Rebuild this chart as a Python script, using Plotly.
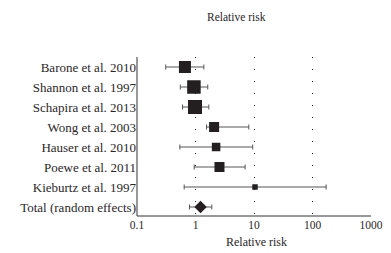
import plotly.graph_objects as go

studies = ["Barone et al. 2010", "Shannon et al. 1997", "Schapira et al. 2013",
           "Wong et al. 2003", "Hauser et al. 2010", "Poewe et al. 2011",
           "Kieburtz et al. 1997", "Total (random effects)"]
rr = [0.66, 0.94, 0.98, 2.08, 2.25, 2.57, 10.4, 1.22]
ci_low = [0.31, 0.55, 0.60, 1.54, 0.54, 0.95, 0.64, 0.79]
ci_high = [1.39, 1.62, 1.69, 8.15, 9.5, 7.05, 171, 1.90]
box_size = [12, 13.5, 14, 10, 8.5, 10, 5.5]
x_ticks = [0.1, 1, 10, 100, 1000]
x_tick_labels = ["0.1", "1", "10", "100", "1000"]

FONT = "Liberation Serif, Times New Roman, serif"
TXT = "#2a2627"
n = len(studies)
ys = list(range(n))

fig = go.Figure()
fig.add_trace(go.Scatter(
    x=rr[:-1], y=ys[:-1], mode="markers",
    marker=dict(symbol="square", size=box_size, color="#231f20", opacity=1,
                line=dict(width=0)),
    error_x=dict(type="data", symmetric=False,
                 array=[h - e for h, e in zip(ci_high[:-1], rr[:-1])],
                 arrayminus=[e - l for e, l in zip(rr[:-1], ci_low[:-1])],
                 color="#555555", thickness=1, width=2.5),
    showlegend=False, hoverinfo="skip"))
fig.add_trace(go.Scatter(
    x=[rr[-1]], y=[ys[-1]], mode="markers",
    marker=dict(symbol="diamond", size=9.5, color="#231f20", opacity=1,
                line=dict(width=0)),
    error_x=dict(type="data", symmetric=False,
                 array=[ci_high[-1] - rr[-1]], arrayminus=[rr[-1] - ci_low[-1]],
                 color="#555555", thickness=1, width=2.5),
    showlegend=False, hoverinfo="skip"))

fig.update_layout(
    width=391, height=253,
    margin=dict(l=137, r=20, t=57, b=37),
    paper_bgcolor="white", plot_bgcolor="white",
    font=dict(family=FONT, size=11.5, color=TXT),
    xaxis=dict(type="log", range=[-1, 3], tickvals=x_ticks, ticktext=x_tick_labels,
               showgrid=True, gridcolor="#222222", gridwidth=1, griddash="1px,11px",
               showline=False, zeroline=False,
               ticks="", automargin=False,
               tickfont=dict(size=11.5, color=TXT)),
    yaxis=dict(range=[7.45, -0.5], tickvals=ys, ticktext=studies,
               showgrid=False, showline=False, zeroline=False, ticks="",
               automargin=False,
               tickfont=dict(size=13, color=TXT)),
    shapes=[
        dict(type="line", xref="paper", yref="paper", x0=0, x1=0, y0=0, y1=1,
             line=dict(color="#333333", width=1)),
        dict(type="line", xref="paper", yref="paper", x0=0, x1=1, y0=0, y1=0,
             line=dict(color="#333333", width=1)),
    ],
    annotations=[
        dict(text="Relative risk", xref="paper", yref="paper",
             x=0.427, y=1, yanchor="middle", yshift=40, showarrow=False,
             font=dict(size=11.5, color=TXT)),
        dict(text="Relative risk", xref="paper", yref="paper",
             x=0.51, y=0, yanchor="middle", yshift=-26, showarrow=False,
             font=dict(size=12, color=TXT)),
    ],
)

fig.write_html("out.html", config={"displayModeBar": False},
               post_script="document.body.style.margin='0';document.body.style.padding='0';")
